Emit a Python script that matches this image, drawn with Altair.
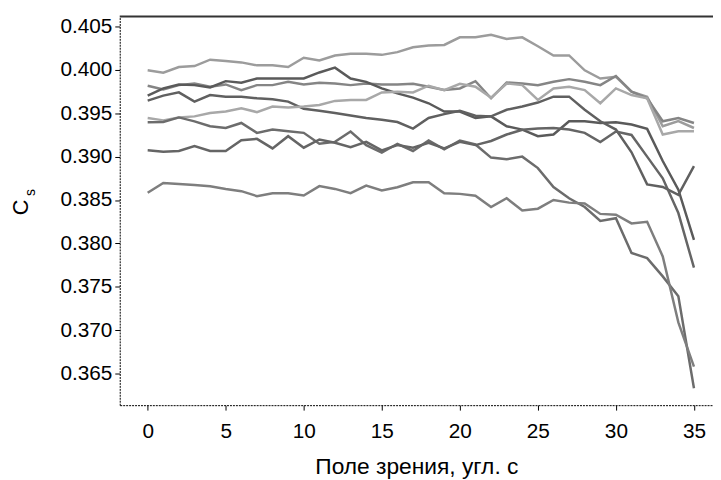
import altair as alt
import pandas as pd

x_vals = list(range(36))

series_a = [0.39995, 0.39968, 0.40033, 0.40044, 0.40117, 0.40101, 0.40086, 0.40052, 0.40052, 0.40033,
            0.40139, 0.40109, 0.40166, 0.40185, 0.40185, 0.40173, 0.40204, 0.40261, 0.40280, 0.40287,
            0.40375, 0.40375, 0.40405, 0.40356, 0.40375, 0.40272, 0.40166, 0.40166, 0.39995, 0.39900,
            0.39919, 0.39750, 0.39690, 0.39350, 0.39410, 0.39330]
series_b = [0.39817, 0.39775, 0.39824, 0.39843, 0.39805, 0.39832, 0.39767, 0.39824, 0.39824, 0.39862,
            0.39832, 0.39851, 0.39843, 0.39824, 0.39843, 0.39832, 0.39832, 0.39839, 0.39805, 0.39767,
            0.39786, 0.39870, 0.39672, 0.39855, 0.39843, 0.39824, 0.39862, 0.39893, 0.39862, 0.39824,
            0.39930, 0.39748, 0.39672, 0.39407, 0.39445, 0.39388]
series_c = [0.39703, 0.39786, 0.39832, 0.39824, 0.39798, 0.39870, 0.39851, 0.39901, 0.39901, 0.39901,
            0.39901, 0.39970, 0.40025, 0.39900, 0.39862, 0.39786, 0.39729, 0.39680, 0.39615, 0.39520,
            0.39520, 0.39445, 0.39464, 0.39350, 0.39312, 0.39236, 0.39255, 0.39407, 0.39407, 0.39388,
            0.39395, 0.39370, 0.39320, 0.38950, 0.38620, 0.38040]
series_d = [0.39646, 0.39703, 0.39741, 0.39634, 0.39710, 0.39691, 0.39691, 0.39672, 0.39661, 0.39634,
            0.39551, 0.39528, 0.39502, 0.39475, 0.39445, 0.39426, 0.39399, 0.39323, 0.39445, 0.39490,
            0.39528, 0.39471, 0.39464, 0.39540, 0.39577, 0.39623, 0.39691, 0.39691, 0.39540, 0.39407,
            0.39312, 0.39050, 0.38680, 0.38650, 0.38560, 0.38890]
series_e = [0.39445, 0.39418, 0.39452, 0.39464, 0.39502, 0.39521, 0.39558, 0.39513, 0.39578, 0.39566,
            0.39578, 0.39596, 0.39642, 0.39653, 0.39653, 0.39740, 0.39748, 0.39740, 0.39817, 0.39767,
            0.39839, 0.39805, 0.39680, 0.39843, 0.39824, 0.39653, 0.39786, 0.39805, 0.39767, 0.39615,
            0.39786, 0.39710, 0.39672, 0.39255, 0.39293, 0.39293]
series_f = [0.39395, 0.39399, 0.39452, 0.39407, 0.39350, 0.39331, 0.39388, 0.39274, 0.39312, 0.39293,
            0.39274, 0.39148, 0.39170, 0.39290, 0.39133, 0.39046, 0.39148, 0.39065, 0.39186, 0.39084,
            0.39186, 0.39140, 0.38989, 0.38970, 0.39000, 0.38868, 0.38650, 0.38520, 0.38420, 0.38260,
            0.38290, 0.37890, 0.37830, 0.37620, 0.37390, 0.36330]
series_g = [0.39073, 0.39057, 0.39065, 0.39122, 0.39065, 0.39065, 0.39190, 0.39205, 0.39095, 0.39236,
            0.39103, 0.39198, 0.39160, 0.39110, 0.39171, 0.39073, 0.39133, 0.39103, 0.39160, 0.39095,
            0.39171, 0.39133, 0.39180, 0.39255, 0.39310, 0.39324, 0.39330, 0.39312, 0.39274, 0.39167,
            0.39290, 0.39250, 0.39000, 0.38750, 0.38350, 0.37720]
series_h = [0.38583, 0.38697, 0.38685, 0.38674, 0.38659, 0.38628, 0.38602, 0.38545, 0.38579, 0.38579,
            0.38552, 0.38660, 0.38628, 0.38579, 0.38666, 0.38610, 0.38647, 0.38704, 0.38704, 0.38579,
            0.38571, 0.38550, 0.38420, 0.38520, 0.38380, 0.38400, 0.38500, 0.38470, 0.38460, 0.38340,
            0.38330, 0.38230, 0.38250, 0.37850, 0.37090, 0.36580]

series_names = ["A", "B", "C", "D", "E", "F", "G", "H"]
series_colors = ["#9c9c9c", "#858585", "#5a5a5a", "#606060", "#a8a8a8", "#6c6c6c", "#656565", "#7e7e7e"]
all_series = [series_a, series_b, series_c, series_d, series_e, series_f, series_g, series_h]

x_ticks = [0, 5, 10, 15, 20, 25, 30, 35]
y_ticks = [0.365, 0.370, 0.375, 0.380, 0.385, 0.390, 0.395, 0.400, 0.405]

rows = []
for name, vals in zip(series_names, all_series):
    for xv, yv in zip(x_vals, vals):
        rows.append({"series": name, "x": xv, "y": yv})
df = pd.DataFrame(rows)

W, H = 600, 393
FONT = "Liberation Sans"

lines = alt.Chart(df).mark_line(strokeWidth=2.5, clip=True).encode(
    x=alt.X("x:Q", scale=alt.Scale(domain=[-1.79, 36.22], nice=False, zero=False),
            axis=alt.Axis(values=x_ticks, title="Поле зрения, угл. с", grid=False,
                          domainDash=[2, 1], domainColor="#000", domainWidth=1,
                          tickColor="#000", tickSize=5, labelPadding=11,
                          labelFont=FONT, labelFontSize=21, labelColor="#000",
                          titleFont=FONT, titleFontSize=23, titleFontWeight="normal",
                          titleColor="#000", titlePadding=14)),
    y=alt.Y("y:Q", scale=alt.Scale(domain=[0.36136, 0.40614], nice=False, zero=False),
            axis=alt.Axis(values=y_ticks, format=".3f", title=None, grid=False,
                          domainDash=[2, 1], domainColor="#000", domainWidth=1,
                          tickColor="#000", tickSize=5, labelPadding=3,
                          labelFont=FONT, labelFontSize=21, labelColor="#000")),
    color=alt.Color("series:N", scale=alt.Scale(domain=series_names, range=series_colors), legend=None),
    detail="series:N",
)

top_rule = alt.Chart(pd.DataFrame({"k": [0]})).mark_rule(color="#333", strokeWidth=2).encode(
    x=alt.value(0), x2=alt.value(W), y=alt.value(0)
)

title_c = alt.Chart(pd.DataFrame({"k": [0]})).mark_text(
    font=FONT, fontSize=22, angle=270, color="#000", align="center", baseline="middle"
).encode(x=alt.value(-100), y=alt.value(193), text=alt.value("C"))

title_s = alt.Chart(pd.DataFrame({"k": [0]})).mark_text(
    font=FONT, fontSize=14, angle=270, color="#000", align="center", baseline="middle"
).encode(x=alt.value(-90), y=alt.value(178), text=alt.value("s"))

chart = alt.layer(lines, top_rule, title_c, title_s).properties(
    width=W, height=H,
    autosize=alt.AutoSizeParams(type="none"),
    padding={"left": 113, "top": 6, "right": 0, "bottom": 72},
).configure_view(stroke=None)

chart.save("out.html", embed_options={"renderer": "svg", "actions": False})
